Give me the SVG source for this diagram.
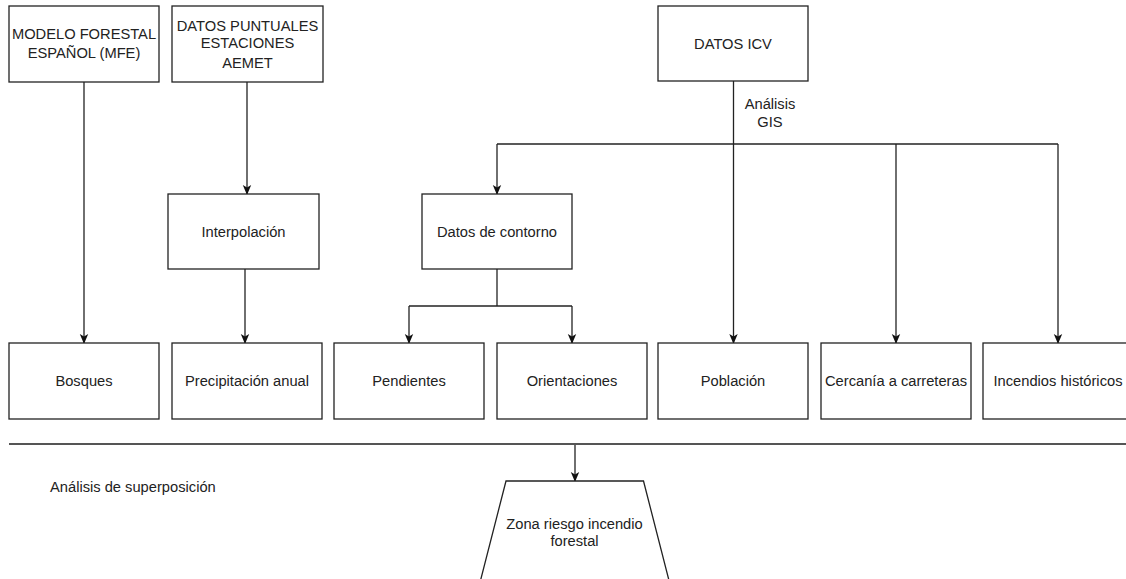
<svg xmlns="http://www.w3.org/2000/svg" width="1126" height="579" viewBox="0 0 1126 579">
<defs>
<style>
.box{fill:#ffffff;stroke:#222;stroke-width:1.3}
.t{font-family:"Liberation Sans",Arial,sans-serif;font-size:14.7px;fill:#222;text-anchor:middle}
.tl{font-family:"Liberation Sans",Arial,sans-serif;font-size:14.7px;fill:#222}
.c{fill:none;stroke:#222;stroke-width:1.3}
.a{fill:none;stroke:#222;stroke-width:1.3;marker-end:url(#arr)}
.sep{fill:none;stroke:#555;stroke-width:2}
</style>
<marker id="arr" viewBox="0 0 10 10" refX="9" refY="5" markerWidth="10" markerHeight="10" markerUnits="userSpaceOnUse" orient="auto">
<path d="M0,0.8 L10,5 L0,9.2 L2.5,5 Z" fill="#111"/>
</marker>
</defs>
<rect width="1126" height="579" fill="#ffffff"/>

<g id="connectors">
<line class="a" x1="84" y1="82" x2="84" y2="343"/>
<line class="a" x1="247" y1="82" x2="247" y2="194"/>
<line class="a" x1="245" y1="269" x2="245" y2="343"/>
<line class="a" x1="733.5" y1="81" x2="733.5" y2="343"/>
<polyline class="c" points="497,144 1058,144"/>
<line class="a" x1="497" y1="144" x2="497" y2="194"/>
<line class="a" x1="896" y1="144" x2="896" y2="343"/>
<line class="a" x1="1058" y1="144" x2="1058" y2="343"/>
<polyline class="c" points="497,269 497,306"/>
<polyline class="c" points="409,306 572,306"/>
<line class="a" x1="409" y1="306" x2="409" y2="343"/>
<line class="a" x1="572" y1="306" x2="572" y2="343"/>
<line class="a" x1="575" y1="444" x2="575" y2="481"/>
</g>

<g id="separator">
<line class="sep" x1="9" y1="444" x2="1126" y2="444"/>
</g>

<g id="label-gis">
<text class="t" x="770" y="109">Análisis</text>
<text class="t" x="770" y="127">GIS</text>
</g>

<g id="label-superposicion">
<text class="tl" x="50" y="492">Análisis de superposición</text>
</g>

<g id="node-mfe">
<rect class="box" x="9" y="6" width="150" height="76"/>
<text class="t" x="84" y="39">MODELO FORESTAL</text>
<text class="t" x="84" y="58">ESPAÑOL (MFE)</text>
</g>

<g id="node-aemet">
<rect class="box" x="172" y="6" width="151" height="76"/>
<text class="t" x="247.5" y="31">DATOS PUNTUALES</text>
<text class="t" x="247.5" y="48">ESTACIONES</text>
<text class="t" x="247.5" y="68">AEMET</text>
</g>

<g id="node-icv">
<rect class="box" x="658" y="6" width="150" height="75"/>
<text class="t" x="733" y="49">DATOS ICV</text>
</g>

<g id="node-interpolacion">
<rect class="box" x="168" y="194" width="151" height="75"/>
<text class="t" x="243.5" y="237">Interpolación</text>
</g>

<g id="node-contorno">
<rect class="box" x="422" y="194" width="150" height="75"/>
<text class="t" x="497" y="237">Datos de contorno</text>
</g>

<g id="node-bosques">
<rect class="box" x="9" y="343" width="150" height="76"/>
<text class="t" x="84" y="386">Bosques</text>
</g>

<g id="node-precipitacion">
<rect class="box" x="172" y="343" width="150" height="76"/>
<text class="t" x="247" y="386">Precipitación anual</text>
</g>

<g id="node-pendientes">
<rect class="box" x="334" y="343" width="150" height="76"/>
<text class="t" x="409" y="386">Pendientes</text>
</g>

<g id="node-orientaciones">
<rect class="box" x="497" y="343" width="150" height="76"/>
<text class="t" x="572" y="386">Orientaciones</text>
</g>

<g id="node-poblacion">
<rect class="box" x="658" y="343" width="150" height="76"/>
<text class="t" x="733" y="386">Población</text>
</g>

<g id="node-carreteras">
<rect class="box" x="821" y="343" width="150" height="76"/>
<text class="t" x="896" y="386">Cercanía a carreteras</text>
</g>

<g id="node-incendios">
<rect class="box" x="983" y="343" width="150" height="76"/>
<text class="t" x="1058" y="386">Incendios históricos</text>
</g>

<g id="node-zona">
<polygon class="box" points="506,481 643.5,481 674,600 475.5,600"/>
<text class="t" x="574.5" y="528.5">Zona riesgo incendio</text>
<text class="t" x="574.5" y="546">forestal</text>
</g>
</svg>
